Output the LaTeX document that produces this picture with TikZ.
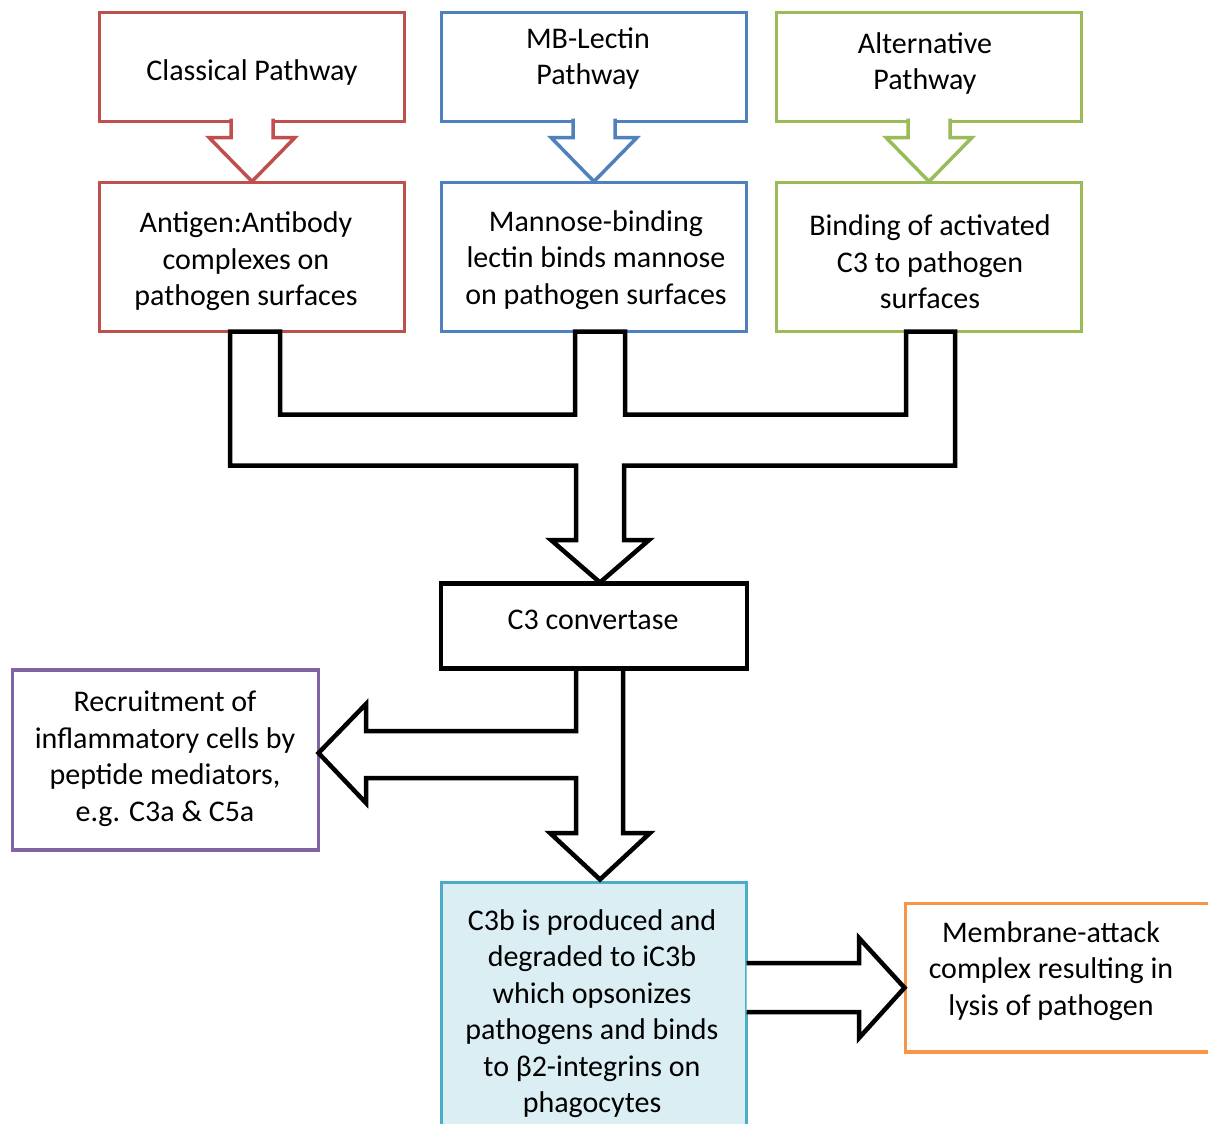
\documentclass[tikz,border=0pt]{standalone}
\usepackage{fontspec}
\setmainfont{Carlito}
\usetikzlibrary{calc}
\definecolor{cred}{HTML}{C0504D}
\definecolor{cblue}{HTML}{4F81BD}
\definecolor{cgreen}{HTML}{9BBB59}
\definecolor{cpurple}{HTML}{8064A2}
\definecolor{caqua}{HTML}{4BACC6}
\definecolor{caquafill}{HTML}{DAEEF3}
\definecolor{corange}{HTML}{F79646}
\begin{document}
\begin{tikzpicture}[x=1bp,y=-1bp,
  box/.style={draw,line width=3.5bp,fill=white,outer sep=0pt,inner sep=0pt},
  txt/.style={align=center,inner sep=0pt,font=\fontsize{30bp}{36.5bp}\selectfont},
  blk/.style={draw=black,line width=4.5bp,fill=white,line join=miter},
  smallarrow/.style={line width=3.5bp,fill=white,line join=miter}]
\clip (0,0) rectangle (1208,1124);
\fill[white] (0,0) rectangle (1208,1124);
% boxes
\node[box,draw=cred,minimum width=305bp,minimum height=109bp] (cl) at (252,67) {};
\node[box,draw=cblue,minimum width=305bp,minimum height=109bp] (mb) at (594,67) {};
\node[box,draw=cgreen,minimum width=305bp,minimum height=109bp] (alt) at (929,67) {};
\node[box,draw=cred,minimum width=305bp,minimum height=149bp] (ant) at (252,257) {};
\node[box,draw=cblue,minimum width=305bp,minimum height=149bp] (man) at (594,257) {};
\node[box,draw=cgreen,minimum width=305bp,minimum height=149bp] (bind) at (929,257) {};
\node[box,draw=black,line width=4.5bp,minimum width=306bp,minimum height=85bp] (c3) at (594,626) {};
\node[box,draw=cpurple,minimum width=306bp,minimum height=180bp] (rec) at (165.5,760) {};
\node[box,draw=caqua,fill=caquafill,minimum width=305bp,minimum height=318bp] (c3b) at (594,1041.5) {};
\node[box,draw=corange,minimum width=395bp,minimum height=148.5bp] (mac) at (1103,977.75) {};
% texts
\node[txt] (tcl) at (252,72) {Classical Pathway};
\node[txt] (tmb) at (588,58.5) {MB-Lectin\\Pathway};
\node[txt] (talt) at (925,63.5) {Alternative\\Pathway};
\node[txt] (tant) at (246,261.5) {Antigen:Antibody\\complexes on\\pathogen surfaces};
\node[txt] (tman) at (596,260) {Mannose-binding\\lectin binds mannose\\on pathogen surfaces};
\node[txt] (tbind) at (930,262) {Binding of activated\\C3 to pathogen\\surfaces};
\node[txt] (tc3) at (593,620) {C3 convertase};
\node[txt] (trec) at (165,758.5) {Recruitment of\\inflammatory cells by\\peptide mediators,\\e.g. C3a \& C5a};
\node[txt] (tc3b) at (592,1013.5) {C3b is produced and\\degraded to iC3b\\which opsonizes\\pathogens and binds\\to β2-integrins on\\phagocytes};
\node[txt] (tmac) at (1051,971) {Membrane-attack\\complex resulting in\\lysis of pathogen};
% small arrows
\foreach \a/\b/\c in {cl/ant/cred, mb/man/cblue, alt/bind/cgreen}{
  \draw[smallarrow,draw=\c] ($(\a.south)+(-21,-3)$) -- ($(\a.south)+(-21,16)$) -- ($(\a.south)+(-43,16)$)
    -- ($(\b.north)+(0,-1)$) -- ($(\a.south)+(43,16)$) -- ($(\a.south)+(21,16)$) -- ($(\a.south)+(21,-3)$);
}
% merge arrow
\draw[blk] ($(ant.south)+(-22,0)$) -- ($(ant.south)+(28,0)$) -- ($(ant.south)+(28,83)$)
  -- ($(man.south)+(-19,83)$) -- ($(man.south)+(-19,0)$) -- ($(man.south)+(31,0)$)
  -- ($(man.south)+(31,83)$) -- ($(bind.south)+(-23,83)$) -- ($(bind.south)+(-23,0)$)
  -- ($(bind.south)+(26,0)$) -- ($(bind.south)+(26,134)$) -- (624,465.5) -- (624,540)
  -- (649,540) -- ($(c3.north)+(6,-1)$) -- (551,540) -- (576,540) -- (576,465.5)
  -- ($(ant.south)+(-22,134)$) -- cycle;
% split arrow
\draw[blk] ($(c3.south)+(-18,0)$) -- (576,731) -- (366,731) -- (366,704)
  -- ($(rec.east)+(0,-7)$) -- (366,803) -- (366,778) -- (576,778) -- (576,833)
  -- (550,833) -- ($(c3b.north)+(6,-3)$) -- (650,833) -- (623,833) -- ($(c3.south)+(29,0)$) -- cycle;
% right arrow
\draw[blk] ($(c3b.east)+(0,-78.5)$) -- (859,963) -- (859,938) -- ($(mac.west)+(-1,10)$)
  -- (859,1038) -- (859,1012) -- ($(c3b.east)+(0,-29.5)$);
\end{tikzpicture}
\end{document}
